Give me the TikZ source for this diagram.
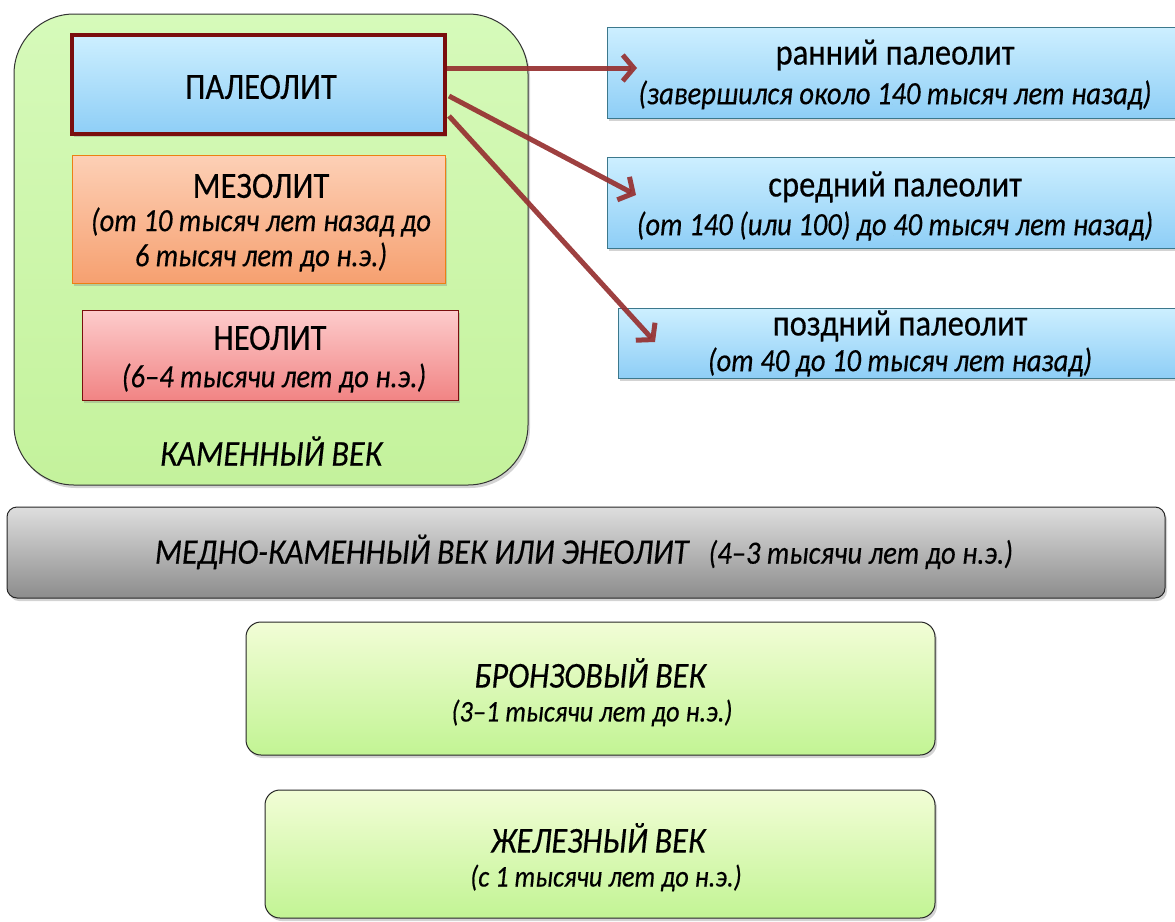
\documentclass[tikz,border=0pt]{standalone}
\usepackage{fontspec}
\setmainfont{Carlito}
\newfontfamily\cfont[FakeStretch=0.88,FakeBold=0.35]{Carlito}
\usetikzlibrary{shadows,arrows.meta}
\definecolor{stoneT}{RGB}{214,250,186}
\definecolor{stoneB}{RGB}{196,242,156}
\definecolor{blueT}{RGB}{205,239,255}
\definecolor{blueB}{RGB}{142,206,246}
\definecolor{oranT}{RGB}{253,208,182}
\definecolor{oranB}{RGB}{246,160,112}
\definecolor{pinkT}{RGB}{253,204,204}
\definecolor{pinkB}{RGB}{241,132,132}
\definecolor{grayT}{RGB}{222,222,222}
\definecolor{grayB}{RGB}{140,140,140}
\definecolor{grnT}{RGB}{242,253,214}
\definecolor{grnB}{RGB}{194,244,148}
\definecolor{arr}{RGB}{150,48,48}
\definecolor{darkred}{RGB}{122,14,14}
\definecolor{tealb}{RGB}{60,120,140}
\tikzset{
  box/.style={draw, line width=1pt, minimum width=#1, inner sep=0pt, drop shadow={shadow xshift=2pt, shadow yshift=-3pt, opacity=0.35}},
  title/.style={font=\cfont\fontsize{37}{40}\selectfont, inner sep=0pt},
  sub/.style={font=\cfont\itshape\fontsize{32.5}{36}\selectfont, inner sep=0pt},
  ititle/.style={font=\cfont\itshape\fontsize{36.5}{40}\selectfont, inner sep=0pt},
  subs/.style={font=\cfont\itshape\fontsize{30}{36}\selectfont, inner sep=0pt},
  conn/.style={arr, line width=5pt, -{Straight Barb[length=11pt,width=26pt]}, opacity=0.92}
}
\begin{document}
\begin{tikzpicture}[x=1pt,y=-1pt]
\useasboundingbox (0,0) rectangle (1175,921);
% stone age
\node[box=514pt, minimum height=471pt, rounded corners=60pt, top color=stoneT, bottom color=stoneB, draw=black!80] (stone) at (271,249.5) {};
\node[ititle] (stonet) at (271,451) {КАМЕННЫЙ ВЕК};
% paleolith
\node[box=373pt, minimum height=99pt, top color=blueT, bottom color=blueB, draw=darkred, line width=4pt] (paleo) at (258.5,84.5) {};
\node[title] (paleot) at (261,87) {ПАЛЕОЛИТ};
% mesolith
\node[box=373pt, minimum height=128pt, top color=oranT, bottom color=oranB, draw=orange!70!brown] (meso) at (258.5,219) {};
\node[title] (mesot) at (261,186) {МЕЗОЛИТ};
\node[sub] (mesos1) at (261,222) {(от 10 тысяч лет назад до};
\node[sub] (mesos2) at (261,257) {6 тысяч лет до н.э.)};
% neolith
\node[box=376pt, minimum height=90pt, top color=pinkT, bottom color=pinkB, draw=darkred] (neo) at (270,355) {};
\node[title] (neot) at (270,338) {НЕОЛИТ};
\node[sub] (neos) at (274,378) {(6–4 тысячи лет до н.э.)};
% right boxes
\node[box=578pt, minimum height=91pt, top color=blueT, bottom color=blueB, draw=tealb] (early) at (896,72.5) {};
\node[title] (earlyt) at (895,55) {ранний палеолит};
\node[sub] (earlys) at (895,95) {(завершился около 140 тысяч лет назад)};
\node[box=578pt, minimum height=91pt, top color=blueT, bottom color=blueB, draw=tealb] (middle) at (896,202.5) {};
\node[title] (middlet) at (895,187) {средний палеолит};
\node[sub] (middles) at (895,226) {(от 140 (или 100) до 40 тысяч лет назад)};
\node[box=567pt, minimum height=70pt, top color=blueT, bottom color=blueB, draw=tealb] (late) at (901.5,343) {};
\node[title] (latet) at (900,326) {поздний палеолит};
\node[sub] (lates) at (900,362) {(от 40 до 10 тысяч лет назад)};
% arrows
\coordinate (a1) at (447,68);
\coordinate (a2) at (449,96);
\coordinate (a3) at (449,116);
\coordinate (e1) at (637,68);
\coordinate (e2) at (636,195);
\coordinate (e3) at (655,342);
\draw[conn] (a1) -- (e1);
\draw[conn] (a2) -- (e2);
\draw[conn] (a3) -- (e3);
% copper-stone age
\node[box=1158pt, minimum height=91pt, rounded corners=10pt, top color=grayT, bottom color=grayB, draw=black!85] (medno) at (586,552.5) {};
\node[ititle, font=\cfont\itshape\fontsize{36}{40}\selectfont] (mednot) at (584,552) {МЕДНО-КАМЕННЫЙ ВЕК ИЛИ ЭНЕОЛИТ\hspace{20pt}{\fontsize{32.5}{36}\selectfont(4–3 тысячи лет до н.э.)}};
% bronze
\node[box=689pt, minimum height=133pt, rounded corners=15pt, top color=grnT, bottom color=grnB, draw=black!85] (bronze) at (590.5,688.5) {};
\node[ititle] (bronzet) at (590,673) {БРОНЗОВЫЙ ВЕК};
\node[subs] (bronzes) at (592,713) {(3–1 тысячи лет до н.э.)};
% iron
\node[box=670pt, minimum height=128pt, rounded corners=15pt, top color=grnT, bottom color=grnB, draw=black!85] (iron) at (600,854) {};
\node[ititle] (iront) at (598,838) {ЖЕЛЕЗНЫЙ ВЕК};
\node[subs] (irons) at (606,878) {(с 1 тысячи лет до н.э.)};
\end{tikzpicture}
\end{document}
